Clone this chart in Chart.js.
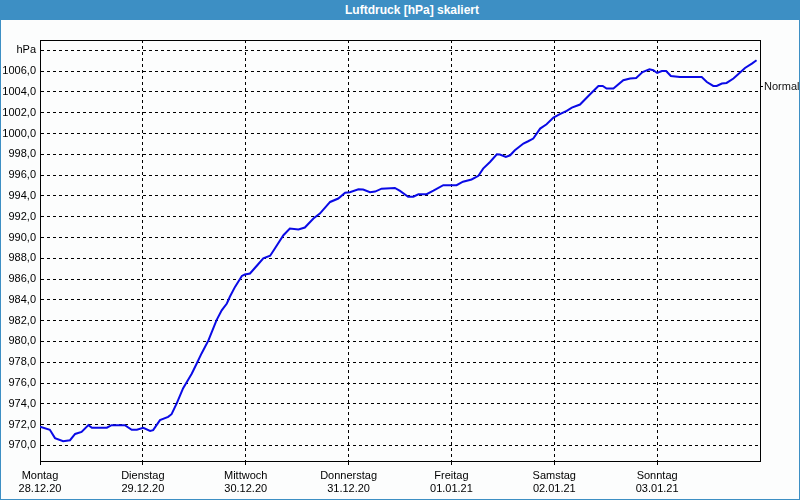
<!DOCTYPE html>
<html>
<head>
<meta charset="utf-8">
<script src="https://cdn.jsdelivr.net/npm/chart.js@4"></script>
<style>
  body { margin: 0; background: #fff; }
  #win { position: absolute; left: 0; top: 0; width: 798px; height: 499px; border: 1px solid #3d8fc4; border-top: none; background: #fcfdfd; }
  #bar { position: absolute; left: 0; top: 0; width: 800px; height: 20px; background: #3d8fc4; color: #fff;
         font: bold 12px "Liberation Sans", Arial, sans-serif; line-height: 20px; text-align: center; }
  #bar span { position: relative; left: 12px; }
  #box { position: absolute; left: 1px; top: 20px; width: 798px; height: 479px; }
</style>
</head>
<body>
<div id="win"></div>
<div id="bar"><span>Luftdruck [hPa] skaliert</span></div>
<div id="box"><canvas id="chart" width="798" height="479"></canvas></div>
<script>
// Luftdruck data, hours since Montag 28.12.20 00:00
var hours = [0, 2.3, 3.5, 5.4, 7, 8.2, 9.7, 11.3, 12.1, 15.6, 16.7, 19.8, 21.4, 22.6, 24.1, 25.7, 26.4, 28, 29.9, 30.7,
    31.9, 33.4, 35.4, 36.6, 37.7, 39.3, 41.2, 42.4, 43.6, 44.3, 45.5, 47.1, 47.8, 49, 50.9, 52.1, 53.7, 54.8, 56.8, 58.3,
    60.3, 61.8, 63.8, 65.3, 67.7, 69.6, 71.2, 72.3, 74.3, 75.4, 77, 78.2, 79.7, 82.8, 84, 85.9, 87.1, 88.3, 90.2, 91.8,
    94.1, 97.2, 98.7, 100.7, 102.3, 103.4, 105, 106.6, 107.3, 108.7, 109.7, 110.8, 112.8, 113.9, 115.1, 116.7, 118.2, 119.8, 121.3, 122.9,
    124.1, 126, 128.3, 130.3, 131.3, 132.2, 133.8, 136.1, 137.7, 139.1, 140.6, 142.2, 143.1, 144, 145.1, 146.1, 147.2, 149.3, 154.4, 155.6,
    157.1, 157.9, 159.1, 160.2, 161.8, 162.9, 164.5, 166.1, 167.2];
var pressure = [971.8, 971.5, 970.7, 970.4, 970.5, 971.1, 971.3, 971.95, 971.7, 971.7, 971.95, 971.95, 971.5, 971.5, 971.7, 971.4, 971.47, 972.43, 972.75, 973.0,
    974.04, 975.5, 976.9, 977.9, 978.85, 980.1, 982.05, 983.0, 983.65, 984.3, 985.25, 986.3, 986.44, 986.54, 987.43, 988.0, 988.25, 988.94, 990.22, 990.87,
    990.77, 990.96, 991.83, 992.3, 993.42, 993.75, 994.3, 994.36, 994.64, 994.62, 994.36, 994.42, 994.7, 994.77, 994.48, 993.92, 993.92, 994.16, 994.16, 994.5,
    995.03, 995.03, 995.37, 995.58, 995.94, 996.63, 997.27, 998.0, 997.98, 997.75, 997.91, 998.39, 999.04, 999.26, 999.52, 1000.48, 1000.89, 1001.54, 1001.86, 1002.19,
    1002.5, 1002.79, 1003.75, 1004.58, 1004.58, 1004.33, 1004.33, 1005.13, 1005.29, 1005.35, 1005.92, 1006.18, 1006.09, 1005.83, 1006.02, 1006.02, 1005.54, 1005.44, 1005.44, 1004.96,
    1004.58, 1004.58, 1004.81, 1004.87, 1005.29, 1005.7, 1006.31, 1006.73, 1007.05];

var dayNames = ['Montag', 'Dienstag', 'Mittwoch', 'Donnerstag', 'Freitag', 'Samstag', 'Sonntag'];
var dayDates = ['28.12.20', '29.12.20', '30.12.20', '31.12.20', '01.01.21', '02.01.21', '03.01.21'];
var dayTicks = [0, 24, 48, 72, 96, 120, 144];
var yTicks = [970, 972, 974, 976, 978, 980, 982, 984, 986, 988, 990, 992, 994, 996, 998, 1000, 1002, 1004, 1006, 1008];
var normalValue = 1004.5;

var tickFont = { family: '"Liberation Sans", Arial, sans-serif', size: 11 };

// solid frame round the plot area
var framePlugin = {
    id: 'frame',
    beforeDatasetsDraw: function (chart) {
        var a = chart.chartArea, c = chart.ctx;
        c.save();
        c.strokeStyle = '#000';
        c.lineWidth = 1;
        c.strokeRect(Math.round(a.left) + 0.5, Math.round(a.top) + 0.5, Math.round(a.right - a.left), Math.round(a.bottom - a.top));
        c.restore();
    }
};

var ctx = document.getElementById('chart').getContext('2d');
var luftdruckChart = new Chart(ctx, {
    type: 'line',
    data: {
        datasets: [{
            data: hours.map(function (h, i) { return { x: h, y: pressure[i] }; }),
            borderColor: '#0a0ae6',
            borderWidth: 2,
            pointRadius: 0,
            tension: 0,
            fill: false
        }]
    },
    options: {
        responsive: false,
        animation: false,
        layout: { padding: { top: 20, left: 0, right: 0, bottom: 0 } },
        plugins: { legend: { display: false }, title: { display: false }, tooltip: { enabled: false } },
        scales: {
            x: {
                type: 'linear',
                min: 0,
                max: 168,
                afterBuildTicks: function (scale) { scale.ticks = dayTicks.map(function (v) { return { value: v }; }); },
                afterFit: function (scale) { scale.height = 38; },
                grid: { color: '#000', lineWidth: 1, tickLength: 5, tickBorderDash: [3, 3], tickColor: '#000' },
                border: { display: true, color: '#000', dash: [3, 3] },
                ticks: {
                    color: '#000',
                    font: tickFont,
                    padding: 3,
                    maxRotation: 0,
                    autoSkip: false,
                    callback: function (v) {
                        var i = dayTicks.indexOf(v);
                        return [dayNames[i], dayDates[i]];
                    }
                }
            },
            y: {
                min: 968.5,
                max: 1009,
                afterBuildTicks: function (scale) { scale.ticks = yTicks.map(function (v) { return { value: v }; }); },
                afterFit: function (scale) { scale.width = 39; },
                grid: { color: '#000', lineWidth: 1, drawTicks: false },
                border: { display: true, color: '#000', dash: [3, 3] },
                ticks: {
                    color: '#000',
                    font: tickFont,
                    padding: 4,
                    callback: function (v) {
                        return v === 1008 ? 'hPa' : v.toFixed(1).replace('.', ',');
                    }
                }
            },
            yR: {
                position: 'right',
                min: 968.5,
                max: 1009,
                afterBuildTicks: function (scale) { scale.ticks = [{ value: normalValue }]; },
                afterFit: function (scale) { scale.width = 39; },
                grid: { drawOnChartArea: false, color: '#000', tickLength: 3 },
                border: { display: true, color: '#000' },
                ticks: {
                    color: '#111',
                    font: tickFont,
                    padding: 1,
                    callback: function () { return 'Normal'; }
                }
            }
        }
    },
    plugins: [framePlugin]
});
</script>
</body>
</html>
